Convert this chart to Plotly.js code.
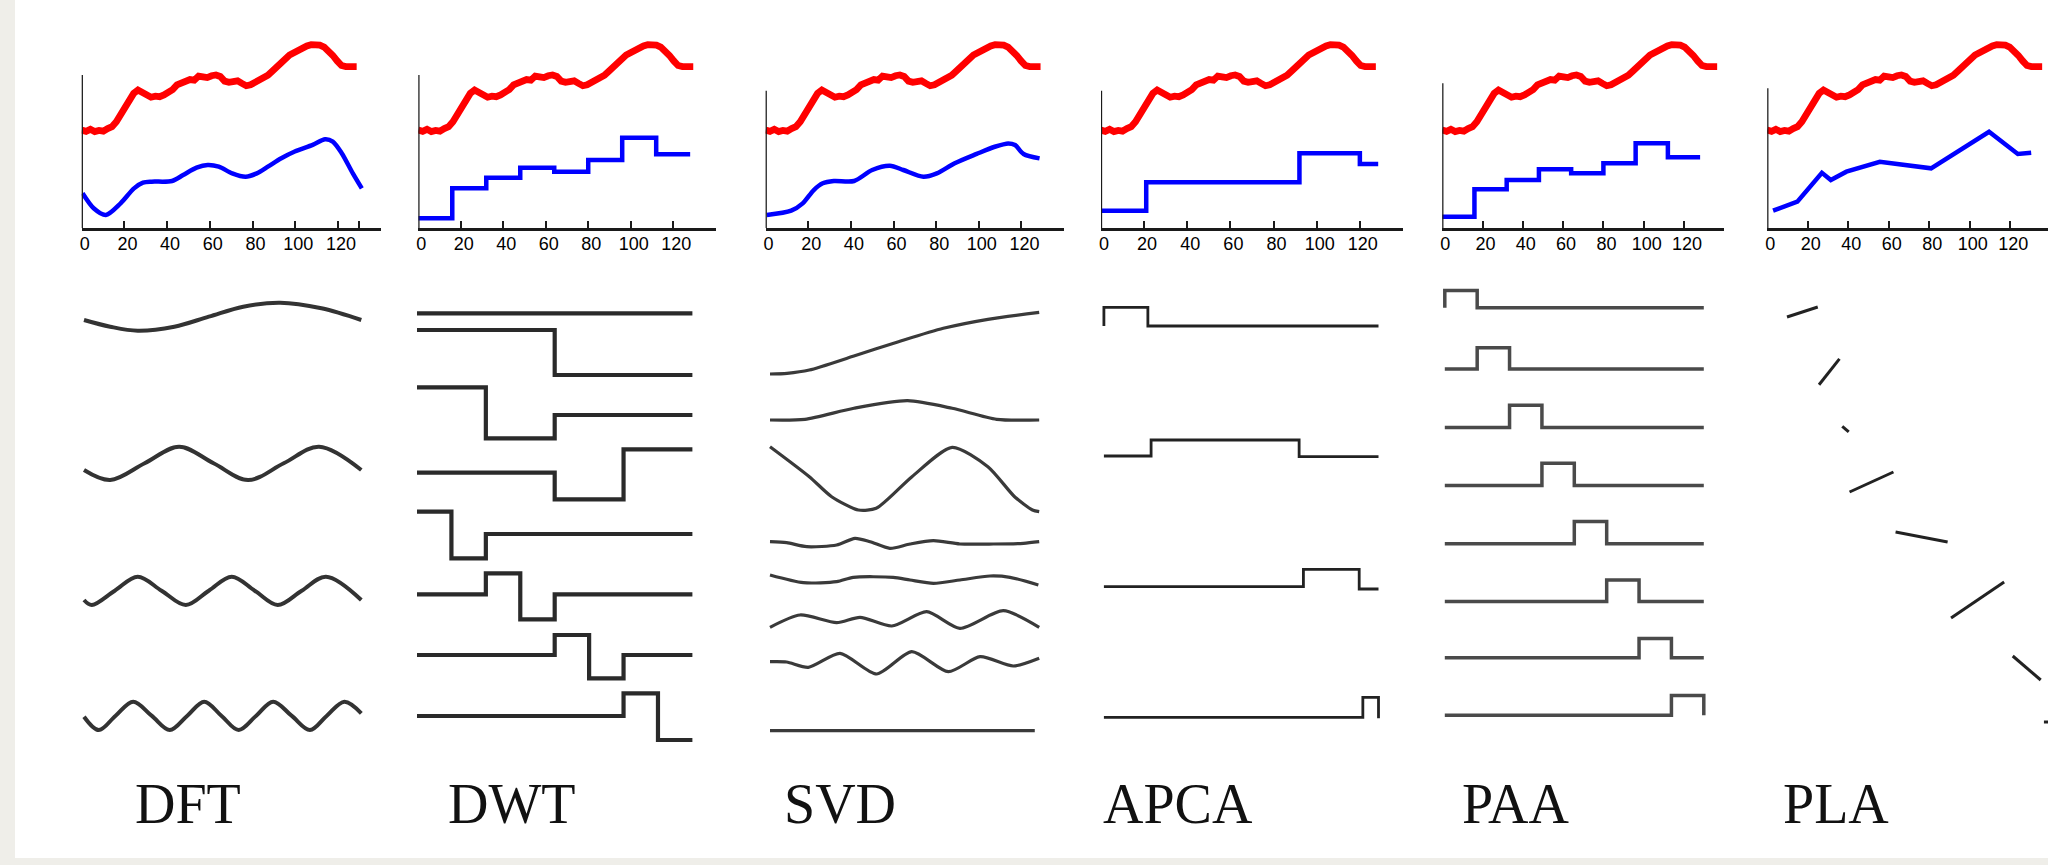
<!DOCTYPE html>
<html><head><meta charset="utf-8">
<script src="https://cdn.plot.ly/plotly-3.0.1.min.js"></script>
<style>html,body{margin:0;padding:0;background:#efeee9;overflow:hidden}#chart{width:2048px;height:865px}</style>
</head><body><div id="chart"></div>
<script>
// ================= DATA =================
const methodNames = ['DFT', 'DWT', 'SVD', 'APCA', 'PAA', 'PLA'];
const tickValues = [0, 20, 40, 60, 80, 100, 120];
const tickLabels = ['0', '20', '40', '60', '80', '100', '120'];

// raw time series (red), same in every panel
const seriesX = [0,2,4,6,8,10,12,14,16,18,20,22,24,26,28,30,32,34,36,38,40,42,44,46,48,50,52,54,56,58,60,62,64,66,68,70,72,74,76,78,80,82,84,86,88,90,92,94,96,98,100,102,104,106,108,110,112,114,116,118,120,122,124,126,127];
const seriesY = [6.40,6.32,6.45,6.30,6.38,6.33,6.50,6.62,6.95,7.40,
                 7.95,8.45,8.80,9.02,8.90,8.70,8.55,8.62,8.58,8.70,
                 8.85,9.05,9.35,9.45,9.58,9.70,9.66,9.93,9.88,9.83,
                 9.95,10.0,9.90,9.60,9.52,9.58,9.62,9.45,9.30,9.36,
                 9.50,9.60,9.72,9.98,10.25,10.55,10.85,11.05,11.30,11.45,
                 11.62,11.78,11.90,11.98,12.0,11.95,11.82,11.58,11.28,10.92,
                 10.62,10.55,10.58,10.52,10.55];

// approximations (blue)
const dftApproxX = [0.4,5.6,11.3,18.2,24.5,28.7,32.8,42.3,47.5,53.8,59,64.2,70.5,76.8,82,87.2,93.5,99.8,108.2,114,117.6,121.8,127,131.2];
const dftApproxY = [2.27,1.29,0.85,1.61,2.59,2.96,3.03,3.07,3.46,3.94,4.12,4.01,3.57,3.35,3.57,4.01,4.56,5.0,5.43,5.8,5.65,4.89,3.57,2.59];
const dwtApproxX = [0,16,32,48,64,80,96,112,128];
const dwtApproxY = [0.63,2.6,3.29,3.94,3.68,4.44,5.9,4.82,4.82];
const svdApproxX = [0.6,12,17.4,22.6,26.8,32,41.5,50,58.3,64.6,74,80.3,88.7,99,107.5,113.8,117,121,128.5];
const svdApproxY = [0.85,1.13,1.61,2.48,2.92,3.07,3.07,3.79,4.07,3.79,3.35,3.57,4.23,4.84,5.31,5.53,5.42,4.84,4.55];
const apcaApproxX = [0,21,92,120,128.5];
const apcaApproxY = [1.13,2.99,4.88,4.18,4.18];
const paaApproxX = [0,16,32,48,64,80,96,112,128];
const paaApproxY = [0.74,2.53,3.14,3.84,3.58,4.23,5.54,4.62,4.62];
const plaApproxX = [2.9,14.9,27,31.4,39.1,55.6,80.9,109.5,123.7,130.3];
const plaApproxY = [1.13,1.72,3.61,3.14,3.68,4.33,3.90,6.29,4.84,4.92];

// basis functions (bottom row); y in row-level units (top = 0, downwards)
const dftBasis = [
  {x:[0,12.1,24.8,41.7,57.6,73.5,90.5,109.6,128], y:[4.0,4.67,5.07,4.67,3.67,2.67,2.27,2.83,4.0]},
  {x:[0,12.1,28,43.9,59.8,75.7,92.2,108.5,128], y:[19.0,20.0,18.33,16.67,18.33,20.0,18.33,16.67,19.0]},
  {x:[0,3.6,14.2,24.8,35.8,47,57.6,68.2,78.8,89.4,100.5,111.7,128], y:[32.0,32.5,31.07,29.67,31.07,32.5,31.07,29.67,31.07,32.5,31.07,29.67,32.0]},
  {x:[0,6.8,14.6,22.7,31.2,39.6,47.7,55.5,63.4,71.4,79.5,87.3,95.8,104.3,112.1,120.2,128], y:[43.67,45.0,43.57,42.17,43.57,45.0,43.57,42.17,43.57,45.0,43.57,42.17,43.57,45.0,43.57,42.17,43.33]}
];
const dwtBasis = [
  {x:[0,128], y:[3.33,3.33]},
  {x:[0,64,128], y:[5.0,9.5,9.5]},
  {x:[0,32,64,128], y:[10.73,15.83,13.5,13.5]},
  {x:[0,64,96,128], y:[19.27,21.93,16.93,16.93]},
  {x:[0,16,32,128], y:[23.17,27.83,25.4,25.4]},
  {x:[0,32,48,64,128], y:[31.43,29.33,33.93,31.43,31.43]},
  {x:[0,64,80,96,128], y:[37.5,35.5,39.83,37.5,37.5]},
  {x:[0,96,112,128], y:[43.6,41.33,46.0,46.0]}
];
const svdBasis = [
  {x:[0,8.1,18.7,39.9,61.1,82.4,103.6,128], y:[9.4,9.33,9.0,7.6,6.17,4.83,3.93,3.23]},
  {x:[0,16.6,39.9,65.4,86.6,107.8,128], y:[14.0,13.93,12.83,12.07,12.83,13.93,14.0]},
  {x:[0,18.7,29.3,42,50.5,67.5,86.6,103.6,116.3,124.8,128], y:[16.67,19.67,21.67,23.0,22.83,19.67,16.73,18.67,21.67,23.0,23.17]},
  {x:[0,7.9,17.5,31.7,40.4,47.6,57,66.6,77.7,90.3,106.2,120.5,128], y:[26.17,26.27,26.67,26.5,25.83,26.17,26.83,26.4,26.07,26.4,26.4,26.33,26.17]},
  {x:[0,15.9,31.7,39.6,58.6,66.6,77.7,90.3,104.6,114.1,127.6], y:[29.5,30.27,30.17,29.73,29.73,30.0,30.33,30.0,29.6,29.73,30.5]},
  {x:[0,14.3,31.7,42.8,57.9,74.5,90.3,110.9,128], y:[34.73,33.5,34.27,33.73,34.6,33.17,34.83,33.07,34.73]},
  {x:[0,7.9,18.2,33.3,50.7,67.4,84.8,99.9,115.7,128], y:[38.17,38.2,38.73,37.33,39.4,37.17,39.17,37.67,38.6,37.83]},
  {x:[0,125.9], y:[45.07,45.07]}
];
const apcaBasis = [
  {x:[0,0,20.5,128], y:[4.6,2.73,4.6,4.6]},
  {x:[0,22,91,128], y:[17.6,16.0,17.67,17.67]},
  {x:[0,93,119,128], y:[30.67,28.93,30.9,30.9]},
  {x:[0,120.7,128], y:[43.73,41.73,43.83]}
];
const paaBasis = [
  {x:[0,0,16,128], y:[2.78,1.04,2.78,2.78]},
  {x:[0,16,32,128], y:[8.89,6.78,8.89,8.89]},
  {x:[0,32,48,128], y:[14.74,12.52,14.74,14.74]},
  {x:[0,48,64,128], y:[20.56,18.33,20.56,20.56]},
  {x:[0,64,80,128], y:[26.37,24.15,26.37,26.37]},
  {x:[0,80,96,128], y:[32.15,30.0,32.15,32.15]},
  {x:[0,96,112,128], y:[37.78,35.85,37.78,37.78]},
  {x:[0,112,128], y:[43.52,41.56,43.52]}
];
const plaSegmentsX = [0,14.3,null,14.9,24.4,null,25.7,28.7,null,29.1,49.5,null,50.5,74.7,null,76.3,101,null,105,118,null,119.5,121.4];
const plaSegmentsY = [3.7,2.7,null,10.48,7.89,null,14.63,15.19,null,21.2,19.2,null,25.2,26.2,null,33.8,30.2,null,37.6,40.0,null,44.2,44.2];

// ================= LAYOUT / STYLE =================
const W = 2048, H = 865;
const fx = p => p / W;
const fy = p => (H - p) / H;
const RED = '#ff0000', BLUE = '#0000ff', INK = '#1a1a1a';

const topPanels = [
  {X0: 81.7,   st: 2.135, endTick: 130, yTop: 10.0},
  {X0: 418.3,  st: 2.124, endTick: 140, yTop: 10.0},
  {X0: 765.6,  st: 2.132, endTick: 140, yTop: 8.97},
  {X0: 1100.9, st: 2.158, endTick: 140, yTop: 8.97},
  {X0: 1442.2, st: 2.015, endTick: 140, yTop: 9.46},
  {X0: 1767.2, st: 2.026, endTick: 140, yTop: 9.13}
];
const redScale = 2.165;
const baseY = 228, topPx = 36, pxUnit = 15.3;
const approx = [
  [dftApproxX, dftApproxY, 'spline'], [dwtApproxX, dwtApproxY, 'hv'], [svdApproxX, svdApproxY, 'spline'],
  [apcaApproxX, apcaApproxY, 'hv'], [paaApproxX, paaApproxY, 'hv'], [plaApproxX, plaApproxY, 'linear']
];

const bottomCols = [
  {L: 84, R: 361.3}, {L: 417, R: 692.4}, {L: 770, R: 1039.2},
  {L: 1103.9, R: 1378.5}, {L: 1444.8, R: 1703.8}, {L: 1787, R: 2048, pla: true}
];
const labelCenters = [187.5, 512, 840, 1178, 1515, 1836];

const layout = {
  width: W, height: H, margin: {l:0, r:0, t:0, b:0},
  paper_bgcolor: '#efeee9', plot_bgcolor: 'rgba(0,0,0,0)',
  showlegend: false, shapes: [], annotations: []
};
layout.shapes.push({type:'rect', xref:'paper', yref:'paper', x0: fx(15), x1: 1, y0: fy(858), y1: 1,
  fillcolor:'#ffffff', line:{width:0}, layer:'below'});

const traces = [];
const yRangeTop = (baseY - topPx) / pxUnit;

topPanels.forEach((p, i) => {
  const n = i + 1, nr = i + 7;
  const R = Math.min(140, (W - p.X0) / p.st);
  const Rr = Math.min(140, (W - p.X0) / redScale);
  const tv = tickValues.concat([p.endTick]);
  const tt = tickLabels.concat(['']);
  layout['xaxis' + n] = {
    domain: [fx(p.X0), fx(p.X0 + R * p.st)], range: [0, R], anchor: 'y' + n,
    showline: true, linecolor: INK, linewidth: 3, showgrid: false, zeroline: false,
    ticks: 'inside', ticklen: 7, tickwidth: 2, tickcolor: INK,
    tickmode: 'array', tickvals: tv, ticktext: tt,
    ticklabelstandoff: -3, ticklabelshift: 3,
    tickfont: {family: '"Liberation Sans", Arial, sans-serif', size: 18, color: '#000'}
  };
  layout['xaxis' + nr] = {
    domain: [fx(p.X0), fx(p.X0 + Rr * redScale)], range: [0, Rr], anchor: 'y' + n, visible: false
  };
  layout['yaxis' + n] = {
    domain: [fy(baseY), fy(topPx)], range: [0, yRangeTop], anchor: 'x' + n, visible: false
  };
  layout.shapes.push({type:'line', xref:'x' + n, yref:'y' + n, x0:0, x1:0, y0:0, y1:p.yTop,
    line:{color: INK, width: 2.5}});
  traces.push({x: seriesX, y: seriesY, xaxis: 'x' + nr, yaxis: 'y' + n, type: 'scatter', mode: 'lines',
    line: {color: RED, width: 6.8}, hoverinfo: 'skip'});
  const a = approx[i];
  traces.push({x: a[0], y: a[1], xaxis: 'x' + n, yaxis: 'y' + n, type: 'scatter', mode: 'lines',
    line: {color: BLUE, width: 4.5, shape: a[2], smoothing: 0.8}, hoverinfo: 'skip'});
});

// bottom row
layout.yaxis7 = {domain: [fy(770), fy(280)], range: [49, 0], anchor: 'x13', visible: false};
const basisSets = [dftBasis, dwtBasis, svdBasis, apcaBasis, paaBasis, null];
const basisStyle = [
  {color:'#333333', width:4, shape:'spline', smoothing:1},
  {color:'#2a2a2a', width:4.2, shape:'hv'},
  {color:'#3a3a3a', width:3.2, shape:'spline', smoothing:0.7},
  {color:'#222222', width:2.8, shape:'hv'},
  {color:'#4a4a4a', width:3.5, shape:'hv'},
  {color:'#222222', width:3, shape:'linear'}
];
bottomCols.forEach((c, i) => {
  const n = i + 13;
  if (c.pla) {
    const s = 2.15;
    layout['xaxis' + n] = {domain: [fx(c.L - 3 * s), 1], range: [-3, (c.R - c.L) / s], anchor: 'y7', visible: false};
  } else {
    const s = (c.R - c.L) / 128;
    layout['xaxis' + n] = {domain: [fx(c.L - 3 * s), fx(c.R + 3 * s)], range: [-3, 131], anchor: 'y7', visible: false};
  }
  const st = basisStyle[i];
  if (basisSets[i]) {
    basisSets[i].forEach((b) => {
      const ln = {color: st.color, width: st.width, shape: st.shape};
      if (st.shape === 'spline') ln.smoothing = st.smoothing;
      traces.push({x: b.x, y: b.y, xaxis: 'x' + n, yaxis: 'y7', type: 'scatter', mode: 'lines',
        line: ln, hoverinfo: 'skip'});
    });
  } else {
    traces.push({x: plaSegmentsX, y: plaSegmentsY, xaxis: 'x' + n, yaxis: 'y7', type: 'scatter', mode: 'lines',
      connectgaps: false, line: {color: st.color, width: st.width}, hoverinfo: 'skip'});
  }
  layout.annotations.push({xref:'paper', yref:'paper', x: fx(labelCenters[i]), y: fy(803.5),
    xanchor:'center', yanchor:'middle', showarrow:false, text: methodNames[i],
    font:{family:'"Liberation Serif", "Times New Roman", serif', size:56, color:'#111'}});
});

Plotly.newPlot('chart', traces, layout, {staticPlot: true, displayModeBar: false});
</script>
</body></html>
